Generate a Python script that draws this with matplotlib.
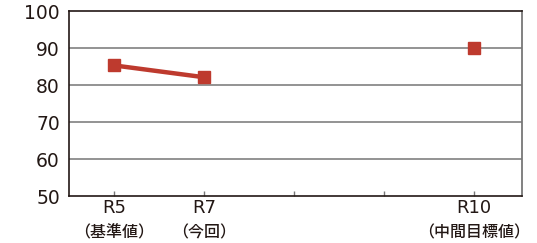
import matplotlib
matplotlib.use("Agg")
import matplotlib.pyplot as plt
import matplotlib.transforms as mtransforms
import numpy as np

plt.rcParams['font.family'] = ['DejaVu Sans', 'Noto Sans CJK JP']

categories = ["R5", "R7", "", "", "R10"]
sublabels = ["（基準値）", "（今回）", "", "", "（中間目標値）"]
values = [85.3, 82.1, np.nan, np.nan, 90.0]
yticks = [50, 60, 70, 80, 90, 100]

text_color = "#231815"
red = "#BE3A2E"

fig = plt.figure(figsize=(5.37, 2.43), dpi=100)
ax = fig.add_axes([0.1285, 0.1934, 0.972 - 0.1285, 0.9547 - 0.1934])

x = np.arange(len(categories))
ax.plot(x, values, color=red, linewidth=3.2, marker="s", markersize=8.5, zorder=3)

ax.set_xlim(-0.5, 4.53)
ax.set_ylim(50, 100)
ax.set_yticks(yticks)
ax.set_yticklabels([str(v) for v in yticks], fontsize=13.5, color=text_color)
ax.tick_params(axis="y", length=0, pad=6.5)
for v in yticks[1:-1]:
    ax.axhline(v, color="#8a8a8a", linewidth=1.3, zorder=1)

ax.set_xticks(x)
ax.set_xticklabels(categories, fontsize=13, color=text_color)
ax.tick_params(axis="x", direction="in", length=3.5, width=1, color="#777777", pad=2.5)

trans = mtransforms.blended_transform_factory(ax.transData, ax.transAxes)
for xi, s in zip(x, sublabels):
    if s:
        ax.text(xi, -0.2, s, transform=trans, ha="center", va="center",
                fontsize=11.5, color=text_color,
                family=['Noto Sans CJK JP', 'DejaVu Sans'], fontweight="medium")

for side in ["left", "bottom", "top"]:
    ax.spines[side].set_color("#231815")
    ax.spines[side].set_linewidth(1.2)
ax.spines["right"].set_color("#777777")
ax.spines["right"].set_linewidth(1.3)

fig.savefig("out.png", dpi=100)
